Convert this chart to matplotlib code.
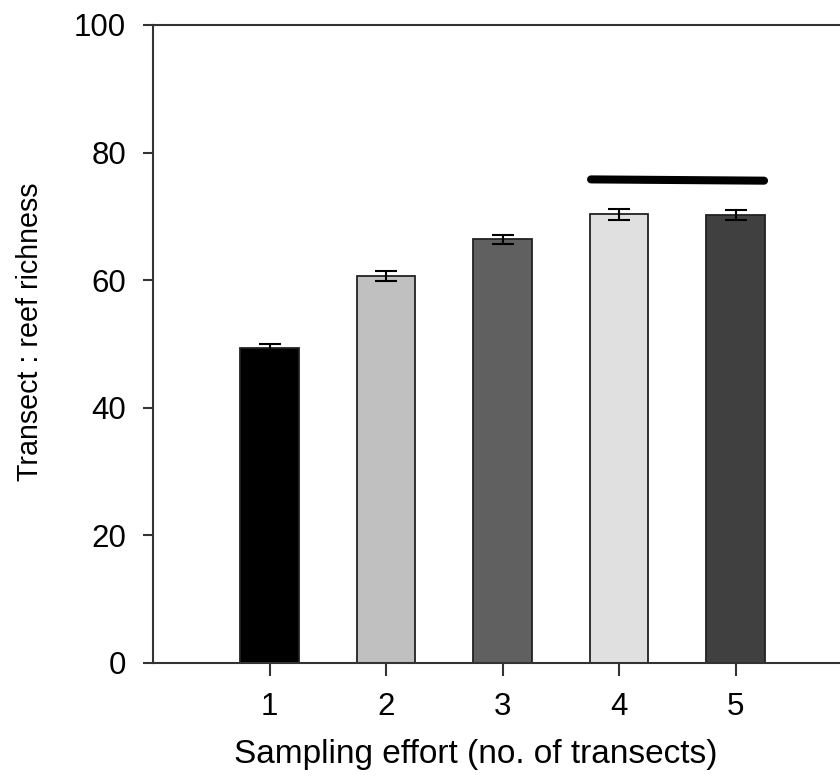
import matplotlib
matplotlib.use("Agg")
import matplotlib.pyplot as plt

plt.rcParams['font.family'] = ['Liberation Sans', 'DejaVu Sans']

categories = [1, 2, 3, 4, 5]
values = [49.3, 60.7, 66.4, 70.3, 70.2]
errors = [0.7, 0.8, 0.75, 0.8, 0.8]
colors = ['#000000', '#c0c0c0', '#606060', '#e0e0e0', '#404040']
sig_line_x = [3.76, 5.245]
sig_line_y = [75.8, 75.6]
yticks = [0, 20, 40, 60, 80, 100]

fig = plt.figure(figsize=(8.4, 7.79), dpi=100)
ax = fig.add_axes([153/840, 116/779, 699/840, 638/779])

ax.bar(categories, values, width=0.5, color=colors, edgecolor='#222222',
       linewidth=1.3, zorder=2)
ax.errorbar(categories, values, yerr=errors, fmt='none', ecolor='black',
            elinewidth=1.5, capsize=8, capthick=1.5, zorder=3)
ax.plot(sig_line_x, sig_line_y, color='black', linewidth=5.8,
        solid_capstyle='round', zorder=3)

ax.set_xlim(0, 6)
ax.set_ylim(0, 100)
ax.set_xticks(categories)
ax.set_xticklabels([str(c) for c in categories])
ax.set_yticks(yticks)

for s in ax.spines.values():
    s.set_linewidth(1.5)
    s.set_color('#333333')

ax.tick_params(axis='both', direction='out', labelsize=22.5, width=1.5,
               color='#333333')
ax.tick_params(axis='x', length=9, pad=12)
ax.tick_params(axis='y', length=7.5, pad=12)

ax.set_xlabel('Sampling effort (no. of transects)', fontsize=24)
ax.xaxis.set_label_coords((476 - 153) / 699, -(739 - 663) / 638)
ax.set_ylabel('Transect : reef richness', fontsize=20.6)
ax.yaxis.set_label_coords(-(153 - 44) / 699, (663 - 332) / 638)

fig.savefig('out.png', dpi=100)
